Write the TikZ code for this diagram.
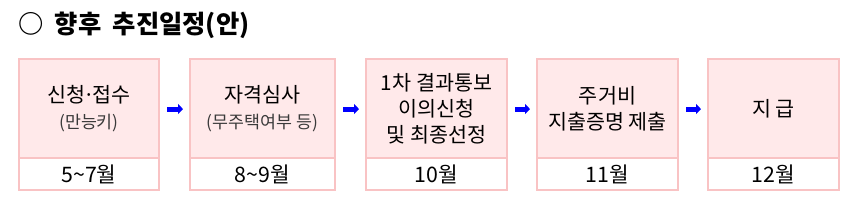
\documentclass[tikz,border=0pt]{standalone}
\usepackage{fontspec}
\setmainfont{Noto Sans CJK KR}
\usepackage{xcolor}
\usetikzlibrary{arrows.meta,positioning}
\definecolor{boxpink}{HTML}{FFE9EA}
\definecolor{linepink}{HTML}{F9C3C4}
\definecolor{subgray}{HTML}{3A3A3A}
\newcommand{\subnote}[1]{{\fontsize{13}{19.5}\selectfont\color{subgray}#1}}
\newcommand{\middot}{\kern-0.12em·\kern-0.12em}

\begin{document}
\begin{tikzpicture}[x=0.75pt, y=-0.75pt,
  every node/.style={inner sep=0pt, outer sep=0pt},
  stagebox/.style={draw=linepink, fill=boxpink, line width=1pt, minimum height=74.25pt,
    align=center, font=\fontsize{15.5}{19.5}\selectfont},
  monthbox/.style={draw=linepink, fill=white, line width=1pt, minimum height=24pt,
    font=\fontsize{16}{18}\selectfont},
  flow/.style={draw=blue, line width=3.75pt, -{Triangle[length=3.75pt,width=7.5pt]},
    shorten <=6pt, shorten >=5.25pt},
  heading/.style={anchor=west, font=\fontsize{19}{22}\selectfont\bfseries}
]
\useasboundingbox (0,0) rectangle (852,217);

%========== title ==========
\node[heading] (title) at (18,25) {○\hspace{0.45em}향후\hspace{0.45em}추진일정(안)};

%========== stages ==========
\node[stagebox, minimum width=105pt]    (s1) at (89,108.5)  {신청\middot 접수\\\subnote{(만능키)}};
\node[stagebox, minimum width=108.75pt] (s2) at (262.5,108.5) {자격심사\\\subnote{(무주택여부 등)}};
\node[stagebox, minimum width=105.75pt] (s3) at (436.5,108.5) {1차 결과통보\\이의신청\\및 최종선정};
\node[stagebox, minimum width=105.75pt] (s4) at (607.5,108.5) {주거비\\지출증명 제출};
\node[stagebox, minimum width=98.25pt]  (s5) at (773.5,108.5) {지 급};

%========== months ==========
\node[monthbox, minimum width=105pt,    below=0pt of s1] (m1) {5\textasciitilde 7월};
\node[monthbox, minimum width=108.75pt, below=0pt of s2] (m2) {8\textasciitilde 9월};
\node[monthbox, minimum width=105.75pt, below=0pt of s3] (m3) {10월};
\node[monthbox, minimum width=105.75pt, below=0pt of s4] (m4) {11월};
\node[monthbox, minimum width=98.25pt,  below=0pt of s5] (m5) {12월};

%========== arrows ==========
\foreach \a/\b in {s1/s2, s2/s3, s3/s4, s4/s5}
  \draw[flow] ([yshift=-0.4pt]\a.east) -- ([yshift=-0.4pt]\b.west);

\end{tikzpicture}
\end{document}
